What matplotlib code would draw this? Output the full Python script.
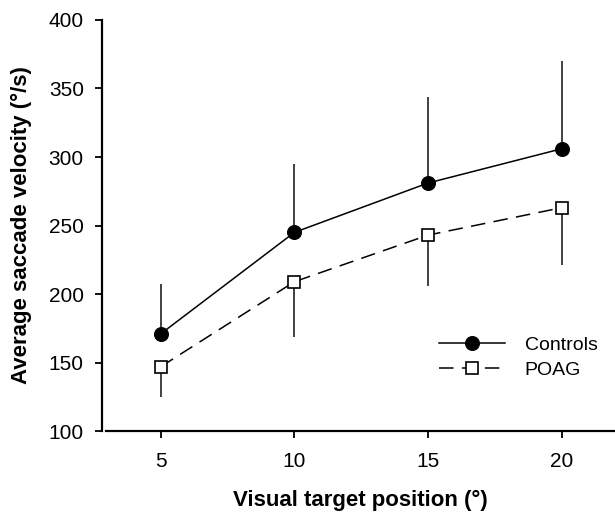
import matplotlib.pyplot as plt

plt.rcParams['font.family'] = ['Liberation Sans', 'DejaVu Sans']

# Data
positions = [5, 10, 15, 20]
controls = [171, 245, 281, 306]
controls_err_up = [36, 50, 63, 64]
poag = [147, 209, 243, 263]
poag_err_down = [22, 40, 37, 42]

fig = plt.figure(figsize=(6.15, 5.12), dpi=100)
ax = fig.add_axes([0.1724, 0.158, 0.8276, 0.803])

# error bars (one sided)
ax.errorbar(positions, controls, yerr=[[0] * 4, controls_err_up], fmt='none',
            ecolor='#333333', elinewidth=1.3, capsize=0, zorder=1)
ax.errorbar(positions, poag, yerr=[poag_err_down, [0] * 4], fmt='none',
            ecolor='#333333', elinewidth=1.3, capsize=0, zorder=1)

ax.plot(positions, controls, '-o', color='black', lw=1.1, markersize=9.8,
        markerfacecolor='black', label='Controls', zorder=3)
ax.plot(positions, poag, 's', color='black', ls=(0, (9.5, 5.5)), lw=1.1,
        markersize=8, markerfacecolor='white', markeredgewidth=1.2,
        label='POAG', zorder=3)

ax.set_xlim(2.95, 22.0)
ax.set_ylim(100, 400)
ax.set_xticks(positions)
ax.set_yticks([100, 150, 200, 250, 300, 350, 400])

ax.spines['top'].set_visible(False)
ax.spines['right'].set_visible(False)
ax.spines['left'].set_position(('outward', 3))
ax.spines['left'].set_linewidth(1.6)
ax.spines['bottom'].set_linewidth(1.6)
ax.tick_params(direction='out', length=5, width=1.3, labelsize=15)
ax.tick_params(axis='y', pad=8)
ax.tick_params(axis='x', pad=10)

ax.set_xlabel('Visual target position (°)', fontsize=16, fontweight='bold', labelpad=14)
ax.set_ylabel('Average saccade velocity (°/s)', fontsize=16, fontweight='bold', labelpad=12)

ax.legend(loc='lower right', bbox_to_anchor=(1.0, 0.085), frameon=False,
          fontsize=14, handlelength=3.4, handletextpad=1.0, labelspacing=0.35)

fig.savefig('out.png', dpi=100)
